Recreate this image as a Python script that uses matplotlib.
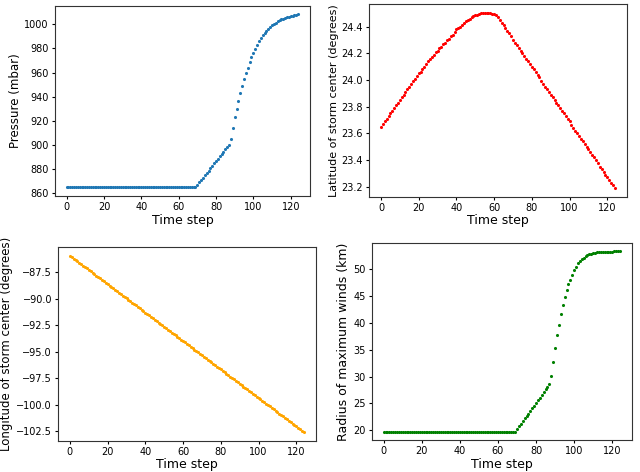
import matplotlib
matplotlib.use("Agg")
import matplotlib.pyplot as plt

# time steps 0..124
steps = list(range(125))

pressure = (
    [865.0] * 70
    + [867.0, 869.0, 871.0, 873.0, 875.0, 877.0, 878.8, 880.8, 882.8, 884.7,
       886.6, 888.6, 890.6, 892.5, 894.5, 896.5, 898.4, 900.4]
    + [905.0, 914.0, 923.0, 930.0, 936.6, 943.0, 949.0, 954.6, 960.0, 964.0,
       968.7, 972.6, 976.0, 979.8, 982.6, 986.0, 988.7, 991.0, 993.0, 994.8,
       996.5, 998.0, 999.3, 1000.5, 1001.5, 1002.4, 1003.2, 1004.0, 1004.7,
       1005.3, 1005.9, 1006.4, 1006.9, 1007.3, 1007.7, 1008.0, 1008.3]
)

latitude = [
    23.65, 23.67, 23.69, 23.71, 23.73, 23.75, 23.77, 23.79, 23.81, 23.83,
    23.85, 23.87, 23.89, 23.91, 23.93, 23.95, 23.97, 23.99, 24.01, 24.03,
    24.05, 24.06, 24.08, 24.10, 24.12, 24.14, 24.16, 24.17, 24.19, 24.21,
    24.22, 24.24, 24.25, 24.27, 24.28, 24.30, 24.31, 24.33, 24.34, 24.36,
    24.38, 24.39, 24.40, 24.41, 24.43, 24.44, 24.45, 24.46, 24.47, 24.48,
    24.485, 24.49, 24.495, 24.50, 24.505, 24.505, 24.50, 24.50, 24.50, 24.495,
    24.495, 24.49, 24.47, 24.45, 24.43, 24.41, 24.39, 24.37, 24.35, 24.33,
    24.30, 24.28, 24.26, 24.24, 24.22, 24.20, 24.18, 24.16, 24.14, 24.12,
    24.10, 24.08, 24.06, 24.04, 24.02, 23.99, 23.97, 23.95, 23.93, 23.91,
    23.89, 23.87, 23.85, 23.83, 23.81, 23.79, 23.77, 23.75, 23.73, 23.71,
    23.69, 23.66, 23.64, 23.62, 23.60, 23.58, 23.56, 23.54, 23.52, 23.50,
    23.48, 23.46, 23.44, 23.42, 23.40, 23.38, 23.35, 23.33, 23.31, 23.29,
    23.27, 23.25, 23.23, 23.21, 23.19,
]

longitude = [
    -85.97, -86.10, -86.24, -86.37, -86.51, -86.64, -86.77, -86.91, -87.04, -87.17,
    -87.31, -87.44, -87.58, -87.71, -87.84, -87.98, -88.11, -88.24, -88.38, -88.51,
    -88.65, -88.78, -88.91, -89.05, -89.18, -89.32, -89.45, -89.58, -89.72, -89.85,
    -89.98, -90.12, -90.25, -90.39, -90.52, -90.65, -90.79, -90.92, -91.05, -91.19,
    -91.32, -91.46, -91.59, -91.72, -91.86, -91.99, -92.12, -92.26, -92.39, -92.53,
    -92.66, -92.79, -92.93, -93.06, -93.20, -93.33, -93.46, -93.60, -93.73, -93.86,
    -94.00, -94.13, -94.27, -94.40, -94.53, -94.67, -94.80, -94.93, -95.07, -95.20,
    -95.34, -95.47, -95.60, -95.74, -95.87, -96.01, -96.14, -96.27, -96.41, -96.54,
    -96.67, -96.81, -96.94, -97.08, -97.21, -97.34, -97.48, -97.61, -97.74, -97.88,
    -98.01, -98.15, -98.28, -98.41, -98.55, -98.68, -98.81, -98.95, -99.08, -99.22,
    -99.35, -99.48, -99.62, -99.75, -99.89, -100.02, -100.15, -100.29, -100.42, -100.55,
    -100.69, -100.82, -100.96, -101.09, -101.22, -101.36, -101.49, -101.63, -101.76, -101.89,
    -102.03, -102.16, -102.29, -102.43, -102.56,
]

radius = (
    [19.7] * 70
    + [20.2, 20.7, 21.2, 21.7, 22.2, 22.6, 23.1, 23.6, 24.1, 24.6,
       25.1, 25.6, 26.1, 26.6, 27.1, 27.6, 28.1, 28.6]
    + [30.1, 32.8, 35.4, 37.7, 39.7, 41.7, 43.3, 44.8, 46.1, 47.2,
       48.1, 49.0, 49.8, 50.5, 51.1, 51.5, 51.9, 52.2, 52.4, 52.6,
       52.8, 52.9, 53.0, 53.1, 53.15, 53.2, 53.25, 53.3, 53.3, 53.3,
       53.3, 53.3, 53.3, 53.35, 53.35, 53.35, 53.35]
)

fig = plt.figure(figsize=(6.4, 4.72), dpi=100)

panels = [
    ([0.086, 0.585, 0.398, 0.403], pressure, "#1f77b4", "Pressure (mbar)", 8.5),
    ([0.577, 0.583, 0.402, 0.409], latitude, "red", "Latitude of storm center (degrees)", 8),
    ([0.091, 0.066, 0.402, 0.411], longitude, "orange", "Longitude of storm center (degrees)", 8.5),
    ([0.581, 0.068, 0.406, 0.417], radius, "green", "Radius of maximum winds (km)", 9),
]

axes = []
for pos, values, color, label, fs in panels:
    ax = fig.add_axes(pos)
    ax.scatter(steps, values, s=5, color=color, linewidths=0)
    ax.set_xlabel("Time step", fontsize=9, labelpad=1)
    ax.set_ylabel(label, fontsize=fs, labelpad=2)
    ax.tick_params(labelsize=7, length=2.5, pad=2)
    ax.set_xticks([0, 20, 40, 60, 80, 100, 120])
    for sp in ax.spines.values():
        sp.set_color("#333333")
    axes.append(ax)

axes[3].set_ylim(18.2, 54.9)

fig.savefig("out.png", dpi=100)
